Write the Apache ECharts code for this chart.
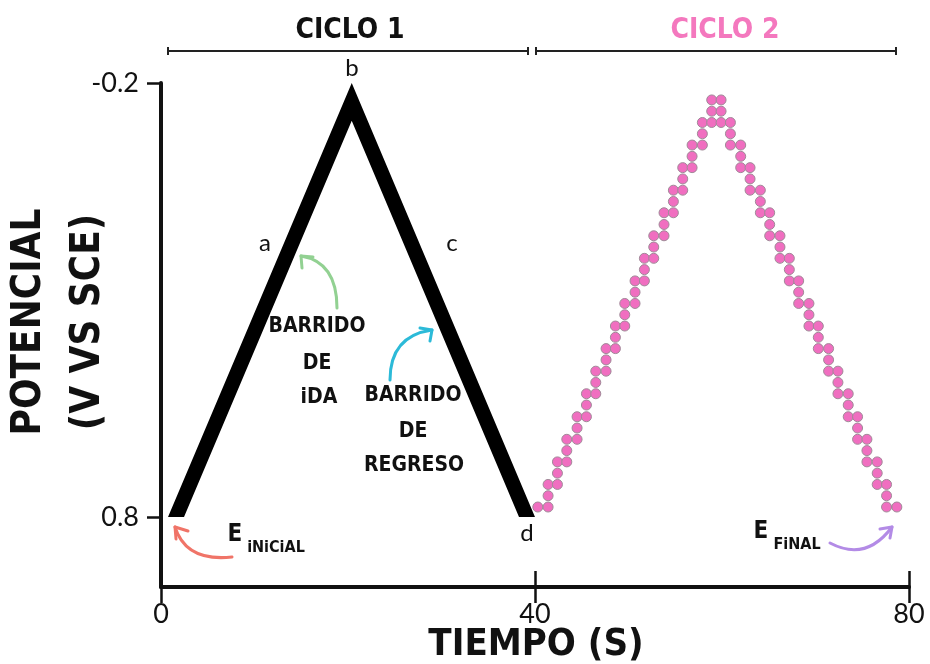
<!DOCTYPE html>
<html><head><meta charset="utf-8">
<script src="https://cdn.jsdelivr.net/npm/echarts@6/dist/echarts.min.js"></script>
<style>html,body{margin:0;padding:0;background:#fff}#c{width:930px;height:664px}</style>
</head><body><div id="c"></div>
<script>
// ---- data ----
const xTicks = [0, 40, 80];
const yTicks = [-0.2, 0.8];
// cycle 1: continuous triangular sweep (outer edge vertices)
const cycle1Time = [0.75, 20.4, 40.0];
const cycle1Potential = [0.8, -0.2, 0.8];
// cycle 2: staircase sampled sweep, one entry per column of dots
const cycle2Time = [40.3,
  41.4, 42.4, 43.4, 44.5, 45.5, 46.5, 47.6, 48.6, 49.6, 50.7, 51.7, 52.7, 53.8, 54.8, 55.8, 56.8, 57.9, 58.9,
  59.9, 60.9, 62.0, 63.0, 64.1, 65.1, 66.2, 67.2, 68.2, 69.3, 70.3, 71.4, 72.4, 73.5, 74.5, 75.5, 76.6, 77.6,
  78.7];
const cycle2Potential = [
  [0.777],
  [0.777, 0.751, 0.725], [0.725, 0.699, 0.673], [0.673, 0.647, 0.621], [0.621, 0.595, 0.569],
  [0.569, 0.542, 0.516], [0.516, 0.490, 0.464], [0.464, 0.438, 0.412], [0.412, 0.386, 0.360],
  [0.360, 0.334, 0.308], [0.308, 0.282, 0.256], [0.256, 0.230, 0.204], [0.204, 0.178, 0.152],
  [0.152, 0.126, 0.099], [0.099, 0.073, 0.047], [0.047, 0.021, -0.005], [-0.005, -0.031, -0.057],
  [-0.057, -0.083, -0.109], [-0.109, -0.135, -0.161],
  [-0.161, -0.135, -0.109], [-0.109, -0.083, -0.057], [-0.057, -0.031, -0.005], [-0.005, 0.021, 0.047],
  [0.047, 0.073, 0.099], [0.099, 0.126, 0.152], [0.152, 0.178, 0.204], [0.204, 0.230, 0.256],
  [0.256, 0.282, 0.308], [0.308, 0.334, 0.360], [0.360, 0.386, 0.412], [0.412, 0.438, 0.464],
  [0.464, 0.490, 0.516], [0.516, 0.542, 0.569], [0.569, 0.595, 0.621], [0.621, 0.647, 0.673],
  [0.673, 0.699, 0.725], [0.725, 0.751, 0.777],
  [0.777]
];

// ---- build ----
const cycle2Points = [];
cycle2Time.forEach((t, i) => cycle2Potential[i].forEach(e => cycle2Points.push([t, e])));

const HAND = '"DejaVu Sans Condensed", "DejaVu Sans", sans-serif';
const THIN = 'Lato, "Open Sans", sans-serif';

function txt(x, y, text, size, color, opts) {
  opts = opts || {};
  return {
    type: 'text', x: x, y: y, rotation: opts.rotation || 0, z: 100,
    style: {
      text: text, fill: color, fontSize: size, fontFamily: opts.family || HAND,
      fontWeight: opts.weight || 'bold', align: 'center', verticalAlign: 'middle',
      textAlign: 'center', textVerticalAlign: 'middle'
    }
  };
}
function arrow(x1, y1, cx, cy, x2, y2, arm1, arm2, color) {
  return [
    { type: 'bezierCurve', z: 100, shape: { x1: x1, y1: y1, cpx1: cx, cpy1: cy, x2: x2, y2: y2 },
      style: { stroke: color, lineWidth: 3, fill: null, lineCap: 'round' } },
    { type: 'polyline', z: 100, shape: { points: [arm1, [x2, y2], arm2] },
      style: { stroke: color, lineWidth: 3, fill: null, lineCap: 'round', lineJoin: 'round' } }
  ];
}
function bracket(xa, xb, y) {
  return [
    { type: 'line', z: 100, shape: { x1: xa, y1: y, x2: xb, y2: y }, style: { stroke: '#222', lineWidth: 2 } },
    { type: 'line', z: 100, shape: { x1: xa, y1: y - 4, x2: xa, y2: y + 4 }, style: { stroke: '#222', lineWidth: 2 } },
    { type: 'line', z: 100, shape: { x1: xb, y1: y - 4, x2: xb, y2: y + 4 }, style: { stroke: '#222', lineWidth: 2 } }
  ];
}

const graphics = [].concat(
  bracket(168, 528, 51), bracket(536, 896, 51),
  [txt(350, 31, 'CICLO 1', 28, '#111'), txt(725, 31, 'CICLO 2', 28, '#f478be'),
   txt(30, 322, 'POTENCIAL', 40, '#111', { rotation: Math.PI / 2 }),
   txt(89, 322, '(V VS SCE)', 40, '#111', { rotation: Math.PI / 2 }),
   txt(536, 645, 'TIEMPO (S)', 38, '#111'),
   txt(265, 243, 'a', 24, '#111', { family: THIN, weight: 'normal' }),
   txt(352, 68, 'b', 24, '#111', { family: THIN, weight: 'normal' }),
   txt(452, 243, 'c', 24, '#111', { family: THIN, weight: 'normal' }),
   txt(527, 533, 'd', 24, '#111', { family: THIN, weight: 'normal' }),
   txt(317, 327, 'BARRIDO', 21, '#111'), txt(317, 364, 'DE', 21, '#111'), txt(319, 398, 'iDA', 21, '#111'),
   txt(413, 396, 'BARRIDO', 21, '#111'), txt(413, 432, 'DE', 21, '#111'), txt(414, 466, 'REGRESO', 21, '#111'),
   txt(235, 535, 'E', 24, '#111'), txt(276, 548, 'iNiCiAL', 16, '#111'),
   txt(761, 532, 'E', 24, '#111'), txt(797, 545, 'FiNAL', 16, '#111')],
  arrow(337, 308, 337, 262, 301, 256, [313, 257], [302, 268], '#92d192'),
  arrow(390, 380, 390, 336, 432, 330, [420, 328], [430, 341], '#2cbad8'),
  arrow(232, 557, 186, 562, 175, 527, [188, 531], [176, 539], '#f07468'),
  arrow(830, 543, 866, 562, 892, 527, [880, 529], [890, 538], '#b38be6')
);

const chart = echarts.init(document.getElementById('c'));
chart.setOption({
  animation: false,
  backgroundColor: '#fff',
  grid: { left: 161, right: 21, top: 83, bottom: 77 },
  xAxis: [{
    type: 'value', min: 0, max: 80, interval: 40,
    axisLine: { show: true, onZero: false, lineStyle: { color: '#111', width: 4 } },
    axisTick: { show: true, length: 16, customValues: xTicks, lineStyle: { color: '#111', width: 2.5 } },
    axisLabel: { customValues: xTicks, fontSize: 27, color: '#111', margin: 14, fontFamily: THIN, fontWeight: 'normal' },
    splitLine: { show: false }
  }, {
    type: 'value', min: 0, max: 80, interval: 40, position: 'bottom',
    axisLine: { show: false, onZero: false },
    axisTick: { show: true, inside: true, length: 16, customValues: xTicks, lineStyle: { color: '#111', width: 2.5 } },
    axisLabel: { show: false }, splitLine: { show: false }
  }],
  yAxis: {
    type: 'value', inverse: true, min: -0.2, max: 0.9613,
    axisLine: { show: true, onZero: false, lineStyle: { color: '#111', width: 4 } },
    axisTick: { show: true, length: 14, customValues: yTicks, lineStyle: { color: '#111', width: 2.5 } },
    axisLabel: { customValues: yTicks, fontSize: 27, color: '#111', margin: 22, fontFamily: THIN, fontWeight: 'normal',
      formatter: v => String(v) },
    splitLine: { show: false }
  },
  series: [{
    type: 'custom', silent: true, z: 3,
    data: cycle1Time.map((t, i) => [t, cycle1Potential[i]]),
    renderItem: function (params, api) {
      if (params.dataIndex !== 0) return null;
      const P = cycle1Time.map((t, i) => api.coord([t, cycle1Potential[i]]));
      const L = P[0], A = P[1], R = P[2], w = 16;
      const sL = (A[0] - L[0]) / (L[1] - A[1]);
      const sR = (R[0] - A[0]) / (R[1] - A[1]);
      const d = (R[0] - L[0] - 2 * w) / (sL + sR);
      const inner = [L[0] + w + d * sL, L[1] - d];
      return { type: 'polygon', shape: { points: [L, A, R, [R[0] - w, R[1]], inner, [L[0] + w, L[1]]] },
        style: { fill: '#000' } };
    }
  }, {
    type: 'scatter', silent: true, z: 4,
    data: cycle2Points, symbol: 'circle', symbolSize: 10,
    itemStyle: { color: '#f06ec0', borderColor: '#a08a98', borderWidth: 1, opacity: 1 }
  }],
  graphic: graphics
});
</script>
</body></html>
